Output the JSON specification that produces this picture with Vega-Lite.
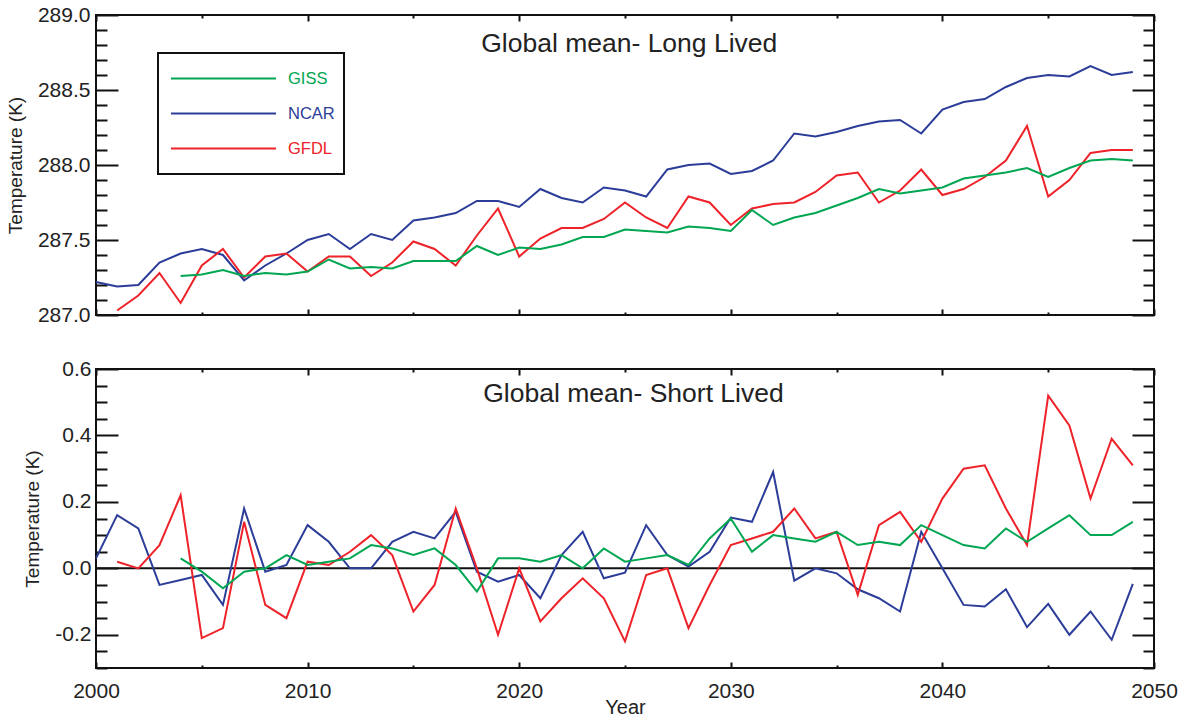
{
  "$schema": "https://vega.github.io/schema/vega-lite/v6.json",
  "padding": {"left": 5, "top": 3, "right": 0, "bottom": 0},
  "background": "white",
  "datasets": {
    "long": [
      {"model":"NCAR","year":2000,"t":287.22},{"model":"NCAR","year":2001,"t":287.19},{"model":"NCAR","year":2002,"t":287.20},{"model":"NCAR","year":2003,"t":287.35},{"model":"NCAR","year":2004,"t":287.41},{"model":"NCAR","year":2005,"t":287.44},{"model":"NCAR","year":2006,"t":287.40},{"model":"NCAR","year":2007,"t":287.23},{"model":"NCAR","year":2008,"t":287.33},{"model":"NCAR","year":2009,"t":287.41},{"model":"NCAR","year":2010,"t":287.50},{"model":"NCAR","year":2011,"t":287.54},{"model":"NCAR","year":2012,"t":287.44},{"model":"NCAR","year":2013,"t":287.54},{"model":"NCAR","year":2014,"t":287.50},{"model":"NCAR","year":2015,"t":287.63},{"model":"NCAR","year":2016,"t":287.65},{"model":"NCAR","year":2017,"t":287.68},{"model":"NCAR","year":2018,"t":287.76},{"model":"NCAR","year":2019,"t":287.76},{"model":"NCAR","year":2020,"t":287.72},{"model":"NCAR","year":2021,"t":287.84},{"model":"NCAR","year":2022,"t":287.78},{"model":"NCAR","year":2023,"t":287.75},{"model":"NCAR","year":2024,"t":287.85},{"model":"NCAR","year":2025,"t":287.83},{"model":"NCAR","year":2026,"t":287.79},{"model":"NCAR","year":2027,"t":287.97},{"model":"NCAR","year":2028,"t":288.00},{"model":"NCAR","year":2029,"t":288.01},{"model":"NCAR","year":2030,"t":287.94},{"model":"NCAR","year":2031,"t":287.96},{"model":"NCAR","year":2032,"t":288.03},{"model":"NCAR","year":2033,"t":288.21},{"model":"NCAR","year":2034,"t":288.19},{"model":"NCAR","year":2035,"t":288.22},{"model":"NCAR","year":2036,"t":288.26},{"model":"NCAR","year":2037,"t":288.29},{"model":"NCAR","year":2038,"t":288.30},{"model":"NCAR","year":2039,"t":288.21},{"model":"NCAR","year":2040,"t":288.37},{"model":"NCAR","year":2041,"t":288.42},{"model":"NCAR","year":2042,"t":288.44},{"model":"NCAR","year":2043,"t":288.52},{"model":"NCAR","year":2044,"t":288.58},{"model":"NCAR","year":2045,"t":288.60},{"model":"NCAR","year":2046,"t":288.59},{"model":"NCAR","year":2047,"t":288.66},{"model":"NCAR","year":2048,"t":288.60},{"model":"NCAR","year":2049,"t":288.62},
      {"model":"GFDL","year":2001,"t":287.03},{"model":"GFDL","year":2002,"t":287.13},{"model":"GFDL","year":2003,"t":287.28},{"model":"GFDL","year":2004,"t":287.08},{"model":"GFDL","year":2005,"t":287.33},{"model":"GFDL","year":2006,"t":287.44},{"model":"GFDL","year":2007,"t":287.25},{"model":"GFDL","year":2008,"t":287.39},{"model":"GFDL","year":2009,"t":287.41},{"model":"GFDL","year":2010,"t":287.29},{"model":"GFDL","year":2011,"t":287.39},{"model":"GFDL","year":2012,"t":287.39},{"model":"GFDL","year":2013,"t":287.26},{"model":"GFDL","year":2014,"t":287.35},{"model":"GFDL","year":2015,"t":287.49},{"model":"GFDL","year":2016,"t":287.44},{"model":"GFDL","year":2017,"t":287.33},{"model":"GFDL","year":2018,"t":287.53},{"model":"GFDL","year":2019,"t":287.71},{"model":"GFDL","year":2020,"t":287.39},{"model":"GFDL","year":2021,"t":287.51},{"model":"GFDL","year":2022,"t":287.58},{"model":"GFDL","year":2023,"t":287.58},{"model":"GFDL","year":2024,"t":287.64},{"model":"GFDL","year":2025,"t":287.75},{"model":"GFDL","year":2026,"t":287.65},{"model":"GFDL","year":2027,"t":287.58},{"model":"GFDL","year":2028,"t":287.79},{"model":"GFDL","year":2029,"t":287.75},{"model":"GFDL","year":2030,"t":287.60},{"model":"GFDL","year":2031,"t":287.71},{"model":"GFDL","year":2032,"t":287.74},{"model":"GFDL","year":2033,"t":287.75},{"model":"GFDL","year":2034,"t":287.82},{"model":"GFDL","year":2035,"t":287.93},{"model":"GFDL","year":2036,"t":287.95},{"model":"GFDL","year":2037,"t":287.75},{"model":"GFDL","year":2038,"t":287.83},{"model":"GFDL","year":2039,"t":287.97},{"model":"GFDL","year":2040,"t":287.80},{"model":"GFDL","year":2041,"t":287.84},{"model":"GFDL","year":2042,"t":287.92},{"model":"GFDL","year":2043,"t":288.03},{"model":"GFDL","year":2044,"t":288.26},{"model":"GFDL","year":2045,"t":287.79},{"model":"GFDL","year":2046,"t":287.90},{"model":"GFDL","year":2047,"t":288.08},{"model":"GFDL","year":2048,"t":288.10},{"model":"GFDL","year":2049,"t":288.10},
      {"model":"GISS","year":2004,"t":287.26},{"model":"GISS","year":2005,"t":287.27},{"model":"GISS","year":2006,"t":287.30},{"model":"GISS","year":2007,"t":287.26},{"model":"GISS","year":2008,"t":287.28},{"model":"GISS","year":2009,"t":287.27},{"model":"GISS","year":2010,"t":287.29},{"model":"GISS","year":2011,"t":287.37},{"model":"GISS","year":2012,"t":287.31},{"model":"GISS","year":2013,"t":287.32},{"model":"GISS","year":2014,"t":287.31},{"model":"GISS","year":2015,"t":287.36},{"model":"GISS","year":2016,"t":287.36},{"model":"GISS","year":2017,"t":287.36},{"model":"GISS","year":2018,"t":287.46},{"model":"GISS","year":2019,"t":287.40},{"model":"GISS","year":2020,"t":287.45},{"model":"GISS","year":2021,"t":287.44},{"model":"GISS","year":2022,"t":287.47},{"model":"GISS","year":2023,"t":287.52},{"model":"GISS","year":2024,"t":287.52},{"model":"GISS","year":2025,"t":287.57},{"model":"GISS","year":2026,"t":287.56},{"model":"GISS","year":2027,"t":287.55},{"model":"GISS","year":2028,"t":287.59},{"model":"GISS","year":2029,"t":287.58},{"model":"GISS","year":2030,"t":287.56},{"model":"GISS","year":2031,"t":287.70},{"model":"GISS","year":2032,"t":287.60},{"model":"GISS","year":2033,"t":287.65},{"model":"GISS","year":2034,"t":287.68},{"model":"GISS","year":2035,"t":287.73},{"model":"GISS","year":2036,"t":287.78},{"model":"GISS","year":2037,"t":287.84},{"model":"GISS","year":2038,"t":287.81},{"model":"GISS","year":2039,"t":287.83},{"model":"GISS","year":2040,"t":287.85},{"model":"GISS","year":2041,"t":287.91},{"model":"GISS","year":2042,"t":287.93},{"model":"GISS","year":2043,"t":287.95},{"model":"GISS","year":2044,"t":287.98},{"model":"GISS","year":2045,"t":287.92},{"model":"GISS","year":2046,"t":287.98},{"model":"GISS","year":2047,"t":288.03},{"model":"GISS","year":2048,"t":288.04},{"model":"GISS","year":2049,"t":288.03}
    ],
    "short": [
      {"model":"NCAR","year":2000,"t":0.03},{"model":"NCAR","year":2001,"t":0.16},{"model":"NCAR","year":2002,"t":0.12},{"model":"NCAR","year":2003,"t":-0.05},{"model":"NCAR","year":2004,"t":-0.035},{"model":"NCAR","year":2005,"t":-0.02},{"model":"NCAR","year":2006,"t":-0.11},{"model":"NCAR","year":2007,"t":0.18},{"model":"NCAR","year":2008,"t":-0.01},{"model":"NCAR","year":2009,"t":0.01},{"model":"NCAR","year":2010,"t":0.13},{"model":"NCAR","year":2011,"t":0.08},{"model":"NCAR","year":2012,"t":0.0},{"model":"NCAR","year":2013,"t":0.0},{"model":"NCAR","year":2014,"t":0.08},{"model":"NCAR","year":2015,"t":0.11},{"model":"NCAR","year":2016,"t":0.09},{"model":"NCAR","year":2017,"t":0.17},{"model":"NCAR","year":2018,"t":-0.01},{"model":"NCAR","year":2019,"t":-0.04},{"model":"NCAR","year":2020,"t":-0.02},{"model":"NCAR","year":2021,"t":-0.09},{"model":"NCAR","year":2022,"t":0.04},{"model":"NCAR","year":2023,"t":0.11},{"model":"NCAR","year":2024,"t":-0.03},{"model":"NCAR","year":2025,"t":-0.013},{"model":"NCAR","year":2026,"t":0.13},{"model":"NCAR","year":2027,"t":0.04},{"model":"NCAR","year":2028,"t":0.005},{"model":"NCAR","year":2029,"t":0.05},{"model":"NCAR","year":2030,"t":0.153},{"model":"NCAR","year":2031,"t":0.14},{"model":"NCAR","year":2032,"t":0.29},{"model":"NCAR","year":2033,"t":-0.037},{"model":"NCAR","year":2034,"t":0.0},{"model":"NCAR","year":2035,"t":-0.015},{"model":"NCAR","year":2036,"t":-0.063},{"model":"NCAR","year":2037,"t":-0.09},{"model":"NCAR","year":2038,"t":-0.13},{"model":"NCAR","year":2039,"t":0.11},{"model":"NCAR","year":2040,"t":0.0},{"model":"NCAR","year":2041,"t":-0.11},{"model":"NCAR","year":2042,"t":-0.115},{"model":"NCAR","year":2043,"t":-0.063},{"model":"NCAR","year":2044,"t":-0.177},{"model":"NCAR","year":2045,"t":-0.107},{"model":"NCAR","year":2046,"t":-0.2},{"model":"NCAR","year":2047,"t":-0.13},{"model":"NCAR","year":2048,"t":-0.215},{"model":"NCAR","year":2049,"t":-0.047},
      {"model":"GFDL","year":2001,"t":0.02},{"model":"GFDL","year":2002,"t":0.0},{"model":"GFDL","year":2003,"t":0.07},{"model":"GFDL","year":2004,"t":0.22},{"model":"GFDL","year":2005,"t":-0.21},{"model":"GFDL","year":2006,"t":-0.18},{"model":"GFDL","year":2007,"t":0.14},{"model":"GFDL","year":2008,"t":-0.11},{"model":"GFDL","year":2009,"t":-0.15},{"model":"GFDL","year":2010,"t":0.02},{"model":"GFDL","year":2011,"t":0.01},{"model":"GFDL","year":2012,"t":0.05},{"model":"GFDL","year":2013,"t":0.10},{"model":"GFDL","year":2014,"t":0.04},{"model":"GFDL","year":2015,"t":-0.13},{"model":"GFDL","year":2016,"t":-0.05},{"model":"GFDL","year":2017,"t":0.18},{"model":"GFDL","year":2018,"t":0.0},{"model":"GFDL","year":2019,"t":-0.20},{"model":"GFDL","year":2020,"t":0.0},{"model":"GFDL","year":2021,"t":-0.16},{"model":"GFDL","year":2022,"t":-0.09},{"model":"GFDL","year":2023,"t":-0.03},{"model":"GFDL","year":2024,"t":-0.09},{"model":"GFDL","year":2025,"t":-0.22},{"model":"GFDL","year":2026,"t":-0.02},{"model":"GFDL","year":2027,"t":0.0},{"model":"GFDL","year":2028,"t":-0.18},{"model":"GFDL","year":2029,"t":-0.05},{"model":"GFDL","year":2030,"t":0.07},{"model":"GFDL","year":2031,"t":0.09},{"model":"GFDL","year":2032,"t":0.11},{"model":"GFDL","year":2033,"t":0.18},{"model":"GFDL","year":2034,"t":0.09},{"model":"GFDL","year":2035,"t":0.11},{"model":"GFDL","year":2036,"t":-0.08},{"model":"GFDL","year":2037,"t":0.13},{"model":"GFDL","year":2038,"t":0.17},{"model":"GFDL","year":2039,"t":0.08},{"model":"GFDL","year":2040,"t":0.21},{"model":"GFDL","year":2041,"t":0.30},{"model":"GFDL","year":2042,"t":0.31},{"model":"GFDL","year":2043,"t":0.18},{"model":"GFDL","year":2044,"t":0.07},{"model":"GFDL","year":2045,"t":0.52},{"model":"GFDL","year":2046,"t":0.43},{"model":"GFDL","year":2047,"t":0.21},{"model":"GFDL","year":2048,"t":0.39},{"model":"GFDL","year":2049,"t":0.31},
      {"model":"GISS","year":2004,"t":0.03},{"model":"GISS","year":2005,"t":-0.01},{"model":"GISS","year":2006,"t":-0.06},{"model":"GISS","year":2007,"t":-0.01},{"model":"GISS","year":2008,"t":0.0},{"model":"GISS","year":2009,"t":0.04},{"model":"GISS","year":2010,"t":0.01},{"model":"GISS","year":2011,"t":0.02},{"model":"GISS","year":2012,"t":0.03},{"model":"GISS","year":2013,"t":0.07},{"model":"GISS","year":2014,"t":0.06},{"model":"GISS","year":2015,"t":0.04},{"model":"GISS","year":2016,"t":0.06},{"model":"GISS","year":2017,"t":0.01},{"model":"GISS","year":2018,"t":-0.07},{"model":"GISS","year":2019,"t":0.03},{"model":"GISS","year":2020,"t":0.03},{"model":"GISS","year":2021,"t":0.02},{"model":"GISS","year":2022,"t":0.04},{"model":"GISS","year":2023,"t":0.0},{"model":"GISS","year":2024,"t":0.06},{"model":"GISS","year":2025,"t":0.02},{"model":"GISS","year":2026,"t":0.03},{"model":"GISS","year":2027,"t":0.04},{"model":"GISS","year":2028,"t":0.01},{"model":"GISS","year":2029,"t":0.09},{"model":"GISS","year":2030,"t":0.15},{"model":"GISS","year":2031,"t":0.05},{"model":"GISS","year":2032,"t":0.10},{"model":"GISS","year":2033,"t":0.09},{"model":"GISS","year":2034,"t":0.08},{"model":"GISS","year":2035,"t":0.11},{"model":"GISS","year":2036,"t":0.07},{"model":"GISS","year":2037,"t":0.08},{"model":"GISS","year":2038,"t":0.07},{"model":"GISS","year":2039,"t":0.13},{"model":"GISS","year":2040,"t":0.10},{"model":"GISS","year":2041,"t":0.07},{"model":"GISS","year":2042,"t":0.06},{"model":"GISS","year":2043,"t":0.12},{"model":"GISS","year":2044,"t":0.08},{"model":"GISS","year":2045,"t":0.12},{"model":"GISS","year":2046,"t":0.16},{"model":"GISS","year":2047,"t":0.10},{"model":"GISS","year":2048,"t":0.10},{"model":"GISS","year":2049,"t":0.14}
    ]
  },
  "vconcat": [
    {
      "width": 1058,
      "height": 300,
      "data": {"name": "long"},
      "layer": [
        {
          "mark": {"type": "line", "strokeWidth": 2},
          "encoding": {
            "x": {"field": "year", "type": "quantitative", "scale": {"domain": [2000, 2050], "nice": false, "zero": false},
              "axis": {"orient": "bottom", "title": null, "values": [2000,2005,2010,2015,2020,2025,2030,2035,2040,2045,2050], "labels": false,
                "tickSize": {"condition": {"test": "datum.value % 10 == 0", "value": -6}, "value": -3}}},
            "y": {"field": "t", "type": "quantitative", "scale": {"domain": [287.0, 289.0], "nice": false, "zero": false},
              "axis": {"orient": "left", "title": "Temperature (K)", "titlePadding": 12, "labelFontSize": 21,
                "values": [287.0,287.1,287.2,287.3,287.4,287.5,287.6,287.7,287.8,287.9,288.0,288.1,288.2,288.3,288.4,288.5,288.6,288.7,288.8,288.9,289.0],
                "tickSize": {"condition": {"test": "abs(datum.value*2 - round(datum.value*2)) < 0.001", "value": -22}, "value": -11},
                "labelPadding": 28,
                "labelExpr": "abs(datum.value*2 - round(datum.value*2)) < 0.001 ? format(datum.value, '.1f') : ''"}},
            "color": {"field": "model", "type": "nominal",
              "scale": {"domain": ["GISS", "NCAR", "GFDL"], "range": ["#00a651", "#2b3d98", "#ee2229"]},
              "legend": {"title": null, "orient": "none", "legendX": 62, "legendY": 38, "symbolType": "stroke", "symbolSize": 11025, "symbolStrokeWidth": 2, "symbolOffset": 3, "clipHeight": 33, "labelOffset": 11, "padding": 9,
                "labelFont": "Liberation Sans", "labelFontSize": 16.5, "labelExpr": "datum.label + '     '",
                "encode": {"legend": {"update": {"stroke": {"value": "#111"}, "strokeWidth": {"value": 2}}},
                  "labels": {"update": {"fill": {"signal": "scale('color', datum.value)"}}}}}}
          }
        },
        {
          "mark": {"type": "point", "opacity": 0},
          "encoding": {
            "x": {"field": "year", "type": "quantitative",
              "axis": {"orient": "top", "title": null, "values": [2000,2005,2010,2015,2020,2025,2030,2035,2040,2045,2050], "labels": false,
                "tickSize": {"condition": {"test": "datum.value % 10 == 0", "value": -6}, "value": -3}}},
            "y": {"field": "t", "type": "quantitative",
              "axis": {"orient": "right", "title": null, "labels": false,
                "values": [287.0,287.1,287.2,287.3,287.4,287.5,287.6,287.7,287.8,287.9,288.0,288.1,288.2,288.3,288.4,288.5,288.6,288.7,288.8,288.9,289.0],
                "tickSize": {"condition": {"test": "abs(datum.value*2 - round(datum.value*2)) < 0.001", "value": -22}, "value": -11}}}
          }
        },
        {
          "data": {"values": [{"label": "Global mean- Long Lived", "x": 2025.2, "y": 288.81}]},
          "mark": {"type": "text", "font": "Liberation Sans", "fontSize": 26.5, "color": "#222", "align": "center", "baseline": "middle"},
          "encoding": {
            "x": {"field": "x", "type": "quantitative", "axis": null},
            "y": {"field": "y", "type": "quantitative", "axis": null},
            "text": {"field": "label"}
          }
        }
      ],
      "resolve": {"axis": {"x": "independent", "y": "independent"}}
    },
    {
      "width": 1058,
      "height": 299,
      "data": {"name": "short"},
      "layer": [
        {
          "data": {"values": [{"zero": 0}]},
          "mark": {"type": "rule", "color": "#111", "strokeWidth": 2},
          "encoding": {"y": {"field": "zero", "type": "quantitative", "axis": null}}
        },
        {
          "mark": {"type": "line", "strokeWidth": 2},
          "encoding": {
            "x": {"field": "year", "type": "quantitative", "scale": {"domain": [2000, 2050], "nice": false, "zero": false},
              "axis": {"orient": "bottom", "title": "Year", "titlePadding": -4, "titleFontSize": 20, "labelFontSize": 21, "values": [2000,2005,2010,2015,2020,2025,2030,2035,2040,2045,2050],
                "tickSize": {"condition": {"test": "datum.value % 10 == 0", "value": -6}, "value": -3},
                "labelPadding": {"condition": {"test": "datum.value % 10 == 0", "value": 18}, "value": 15},
                "labelExpr": "datum.value % 10 == 0 ? '' + datum.value : ''"}},
            "y": {"field": "t", "type": "quantitative", "scale": {"domain": [-0.3, 0.6], "nice": false, "zero": false},
              "axis": {"orient": "left", "title": "Temperature (K)", "titlePadding": 12, "labelFontSize": 21,
                "values": [-0.3,-0.25,-0.2,-0.15,-0.1,-0.05,0,0.05,0.1,0.15,0.2,0.25,0.3,0.35,0.4,0.45,0.5,0.55,0.6],
                "tickSize": {"condition": {"test": "abs(datum.value*5 - round(datum.value*5)) < 0.001", "value": -22}, "value": -11},
                "labelPadding": 27,
                "labelExpr": "abs(datum.value*5 - round(datum.value*5)) < 0.001 ? (datum.value < -0.001 ? '-' + format(-datum.value, '.1f') : format(abs(datum.value), '.1f')) : ''"}},
            "color": {"field": "model", "type": "nominal", "legend": null}
          }
        },
        {
          "mark": {"type": "point", "opacity": 0},
          "encoding": {
            "x": {"field": "year", "type": "quantitative",
              "axis": {"orient": "top", "title": null, "values": [2000,2005,2010,2015,2020,2025,2030,2035,2040,2045,2050], "labels": false,
                "tickSize": {"condition": {"test": "datum.value % 10 == 0", "value": -6}, "value": -3}}},
            "y": {"field": "t", "type": "quantitative",
              "axis": {"orient": "right", "title": null, "labels": false,
                "values": [-0.3,-0.25,-0.2,-0.15,-0.1,-0.05,0,0.05,0.1,0.15,0.2,0.25,0.3,0.35,0.4,0.45,0.5,0.55,0.6],
                "tickSize": {"condition": {"test": "abs(datum.value*5 - round(datum.value*5)) < 0.001", "value": -22}, "value": -11}}}
          }
        },
        {
          "data": {"values": [{"label": "Global mean- Short Lived", "x": 2025.4, "y": 0.525}]},
          "mark": {"type": "text", "font": "Liberation Sans", "fontSize": 26.5, "color": "#222", "align": "center", "baseline": "middle"},
          "encoding": {
            "x": {"field": "x", "type": "quantitative", "axis": null},
            "y": {"field": "y", "type": "quantitative", "axis": null},
            "text": {"field": "label"}
          }
        }
      ],
      "resolve": {"axis": {"x": "independent", "y": "independent"}}
    }
  ],
  "spacing": 54,
  "bounds": "flush",
  "resolve": {"legend": {"color": "independent"}},
  "config": {
    "view": {"stroke": "#111", "strokeWidth": 2},
    "axis": {"grid": false, "domain": false, "labelFont": "Liberation Sans", "labelFontSize": 21, "labelColor": "#222",
      "titleFont": "Liberation Sans", "titleFontSize": 19, "titleFontWeight": "normal", "titleColor": "#222",
      "tickColor": "#111", "tickWidth": 2, "labelFlush": false, "labelOverlap": false, "labelBound": false}
  }
}
